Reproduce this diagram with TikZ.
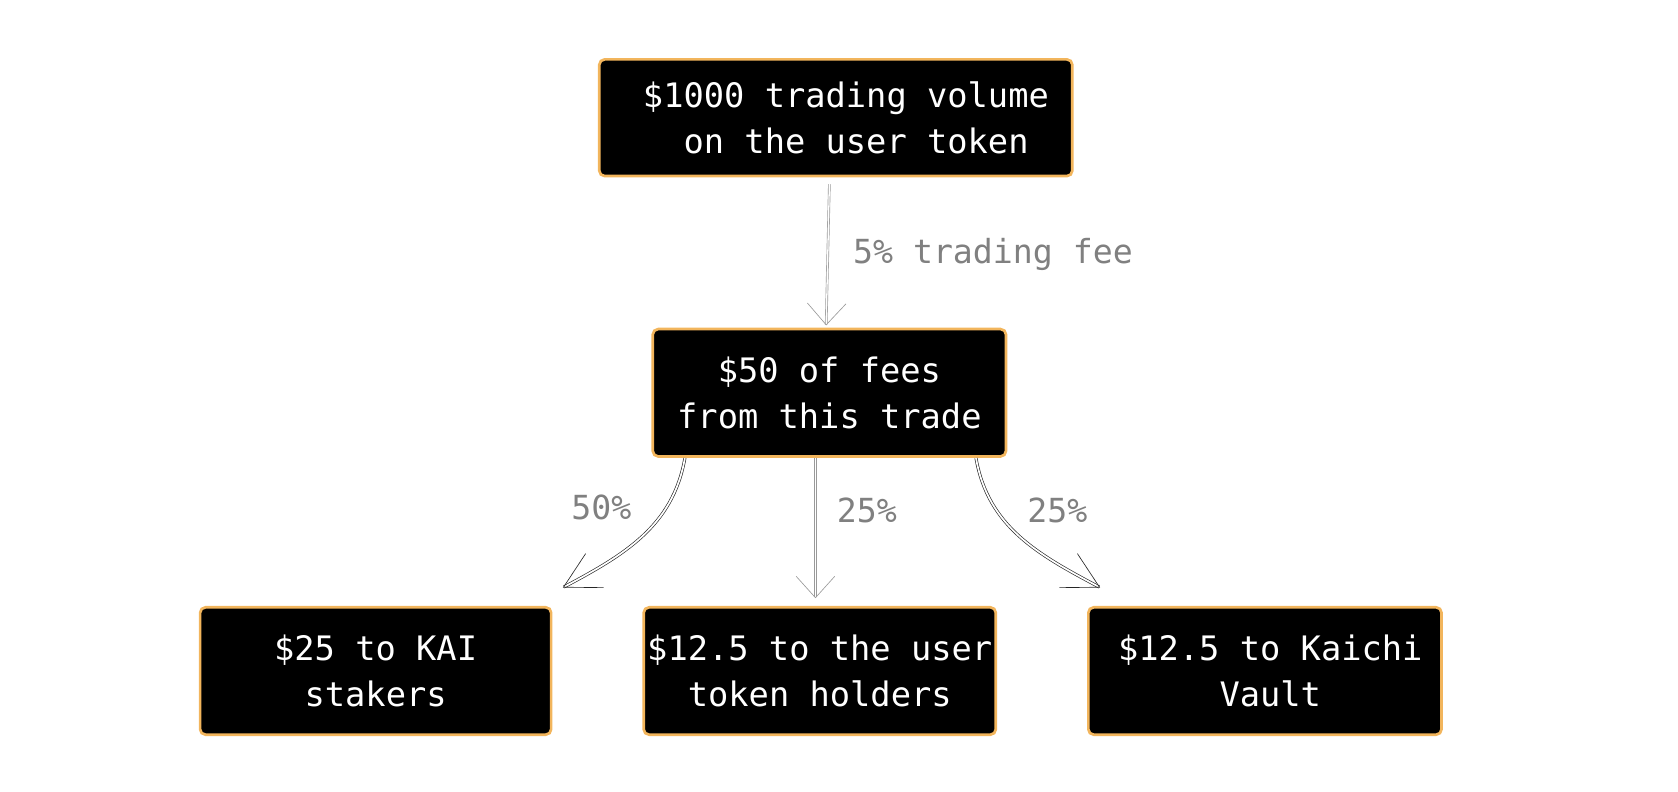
\documentclass[tikz,border=0pt]{standalone}
\usepackage{fontspec}
\setmonofont{DejaVu Sans Mono}
\usetikzlibrary{arrows.meta}
\definecolor{boxorange}{HTML}{F2B55C}
\tikzset{
  boxnode/.style={draw=boxorange, line width=2.5pt, fill=black, rounded corners=5pt,
    text=white, align=center, inner sep=0pt, font=\ttfamily\fontsize{31.5}{43}\selectfont},
  flowarrow/.style={draw=black!85, line width=0.6pt, double=white, double distance=1.6pt,
    -{Straight Barb[length=33pt,width=36pt]}},
  lightarrow/.style={draw=black!40, line width=0.6pt, double=white, double distance=1.2pt,
    -{Straight Barb[length=20pt,width=36pt]}},
  flowlabel/.style={text=black!50, font=\ttfamily\fontsize{31}{36}\selectfont, inner sep=0pt}
}
\begin{document}
\begin{tikzpicture}[x=1pt,y=-1pt]
\useasboundingbox (0,0) rectangle (1568,740);
\node[boxnode, minimum width=442pt, minimum height=109pt] (top) at (781,110) {~\$1000 trading volume\\~~on the user token};
\node[boxnode, minimum width=330pt, minimum height=119pt] (mid) at (775,367) {\$50 of fees\\from this trade};
\node[boxnode, minimum width=328pt, minimum height=119pt] (b1) at (351,627) {\$25 to KAI\\stakers};
\node[boxnode, minimum width=329pt, minimum height=119pt] (b2) at (766,627) {\$12.5 to the user\\token holders};
\node[boxnode, minimum width=330pt, minimum height=119pt] (b3) at (1182,627) {\hspace*{10pt}\$12.5 to Kaichi\\\hspace*{10pt}Vault};

\coordinate (s0) at (775,172);
\coordinate (e0) at (772,304);
\coordinate (s1) at (640,428);
\coordinate (e1) at (526,549);
\coordinate (s2) at (762,428);
\coordinate (e2) at (762,559);
\coordinate (s3) at (912,428);
\coordinate (e3) at (1028,549);

\draw[lightarrow] (s0) -- (e0);
\draw[flowarrow] (s1) to[out=-100,in=28] (e1);
\draw[lightarrow] (s2) -- (e2);
\draw[flowarrow] (s3) to[out=-80,in=152] (e3);

\node[flowlabel, anchor=west] (l0) at (797,238) {5\% trading fee};
\node[flowlabel] (l1) at (562,474) {50\%};
\node[flowlabel] (l2) at (810,477) {25\%};
\node[flowlabel] (l3) at (988,477) {25\%};
\end{tikzpicture}
\end{document}
